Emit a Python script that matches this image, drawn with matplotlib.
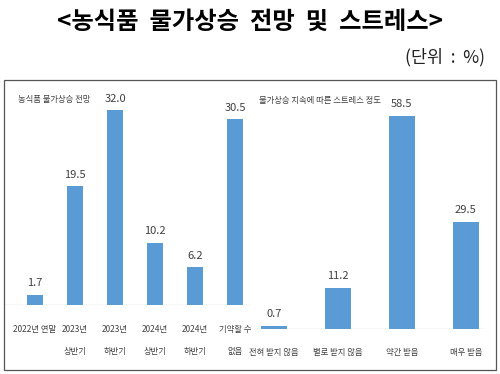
import matplotlib
matplotlib.use("Agg")
import matplotlib.pyplot as plt
from matplotlib.patches import Rectangle

plt.rcParams['font.family'] = ['Noto Sans CJK KR', 'DejaVu Sans']

# 농식품 물가상승 전망
outlook_labels = ['2022년 연말', '2023년\n상반기', '2023년\n하반기', '2024년\n상반기', '2024년\n하반기', '기약할 수\n없음']
outlook_values = [1.7, 19.5, 32.0, 10.2, 6.2, 30.5]

# 물가상승 지속에 따른 스트레스 정도
stress_labels = ['전혀 받지 않음', '별로 받지 않음', '약간 받음', '매우 받음']
stress_values = [0.7, 11.2, 58.5, 29.5]

bar_color = '#5B9BD5'
text_color = '#404040'

fig = plt.figure(figsize=(5, 3.74), dpi=100)

fig.text(0.5, 0.942, '<농식품  물가상승  전망  및  스트레스>', ha='center', va='center',
         fontsize=17.5, fontweight='bold', color='black')
fig.text(0.97, 0.848, '(단위  :  %)', ha='right', va='center', fontsize=12.5, color='#222222')

# outer box
fig.patches.append(Rectangle((0.008, 0.011), 0.983, 0.775, transform=fig.transFigure,
                             fill=False, edgecolor='#555555', linewidth=0.9))


def draw_panel(ax, labels, values, xlim, ylim, label_y):
    x = list(range(len(values)))
    ax.bar(x, values, width=0.4, color=bar_color, zorder=2)
    for xi, v in zip(x, values):
        ax.text(xi, v + ylim[1] * 0.03, f'{v:.1f}', ha='center', va='bottom',
                fontsize=8, color=text_color)
    ax.set_xlim(*xlim)
    ax.set_ylim(*ylim)
    ax.axhline(0, color='#D9D9D9', linewidth=1, zorder=1)
    for s in ax.spines.values():
        s.set_visible(False)
    ax.set_yticks([])
    ax.set_xticks([])
    for xi, lab in zip(x, labels):
        ax.text(xi, label_y, lab, ha='center', va='top', fontsize=6,
                color=text_color, linespacing=2.8,
                transform=ax.get_xaxis_transform())
    ax.patch.set_alpha(0)
    return ax


ax1 = fig.add_axes([0.01, 0.1845, 0.49, 0.575])
draw_panel(ax1, outlook_labels, outlook_values, (-0.75, 5.375), (0, 35.3), -0.095)
ax1.text(0.055, 0.955, '농식품 물가상승 전망', transform=ax1.transAxes, ha='left', va='center',
         fontsize=6, color=text_color)

ax2 = fig.add_axes([0.5, 0.1203, 0.47, 0.639])
draw_panel(ax2, stress_labels, stress_values, (-0.375, 3.3), (0, 65.7), -0.08)
ax2.text(0.04, 0.958, '물가상승 지속에 따른 스트레스 정도', transform=ax2.transAxes, ha='left',
         va='center', fontsize=6, color=text_color)

fig.savefig('out.png', dpi=100)
